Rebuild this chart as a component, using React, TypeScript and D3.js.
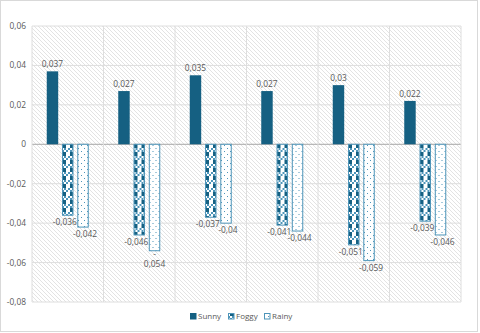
import React from "react";
import * as d3 from "d3";

const categories = ["1", "2", "3", "4", "5", "6"];
const seriesNames = ["Sunny", "Foggy", "Rainy"];
const sunny = [0.037, 0.027, 0.035, 0.027, 0.03, 0.022];
const foggy = [-0.036, -0.046, -0.037, -0.041, -0.051, -0.039];
const rainy = [-0.042, -0.054, -0.04, -0.044, -0.059, -0.046];
const yTicks = [0.06, 0.04, 0.02, 0, -0.02, -0.04, -0.06, -0.08];

const W = 480;
const H = 333;
const left = 32;
const right = 461;
const top = 26;
const bottom = 302;
const FONT = "'Open Sans', 'Liberation Sans', sans-serif";
const TXT = "#595959";
const DARK = "#156082";
const LIGHT = "#4e95b9";
const FS = 8.4;

const fmt = (v: number) => {
  if (v === 0) return "0";
  return String(v).replace(".", ",");
};

export default function App() {
  const x = d3.scaleBand<string>().domain(categories).range([left, right]).padding(0);
  const inner = d3
    .scaleBand<string>()
    .domain(seriesNames)
    .range([14.75, x.bandwidth() - 14.75])
    .paddingInner(0.25)
    .paddingOuter(0);
  const y = d3.scaleLinear().domain([-0.08, 0.06]).range([bottom, top]);
  const values = [sunny, foggy, rainy];
  const fills = [DARK, "url(#fogPat)", "url(#rainPat)"];
  const strokes = ["none", LIGHT, LIGHT];
  const bw = inner.bandwidth();

  return (
    <svg width={W} height={H} style={{ display: "block", position: "absolute", left: 0, top: 0 }}>
      <defs>
        <pattern id="bgHatch" patternUnits="userSpaceOnUse" width="4" height="4">
          <rect width="4" height="4" fill="#ffffff" />
          <path d="M-1,-1 L5,5 M-1,3 L1,5 M3,-1 L5,1" stroke="#dcdcdc" strokeWidth="0.8" />
        </pattern>
        <pattern id="fogPat" patternUnits="userSpaceOnUse" width="8" height="8">
          <rect width="8" height="8" fill={DARK} />
          <rect x="2" y="0" width="4" height="4" fill="#ffffff" />
          <rect x="0" y="4" width="8" height="4" fill="#ffffff" />
          <rect x="0" y="4" width="2" height="2" fill={LIGHT} />
          <rect x="4" y="4" width="2" height="2" fill={LIGHT} />
          <rect x="2" y="6" width="2" height="2" fill={LIGHT} />
          <rect x="6" y="6" width="2" height="2" fill={LIGHT} />
        </pattern>
        <pattern id="rainPat" patternUnits="userSpaceOnUse" width="6" height="6">
          <rect width="6" height="6" fill="#ffffff" />
          <rect x="1" y="1" width="1" height="1" fill={LIGHT} />
          <rect x="4" y="4" width="1" height="1" fill={LIGHT} />
        </pattern>
      </defs>
      <rect x={0.5} y={0.5} width={477} height={331} fill="#ffffff" stroke="#d9d9d9" />
      <rect x={left} y={top} width={right - left} height={bottom - top} fill="url(#bgHatch)" />
      {yTicks.map((t) => (
        <g key={t}>
          <line
            x1={left}
            x2={right}
            y1={y(t)}
            y2={y(t)}
            stroke={t === 0 ? "#a6a6a6" : "#dedede"}
            strokeWidth={1}
          />
          <text x={26} y={y(t)} dy="0.35em" textAnchor="end" fontFamily={FONT} fontSize={FS} fill={TXT}>
            {t === 0 ? "0" : d3.format(".2f")(t).replace(".", ",").replace("−", "-")}
          </text>
        </g>
      ))}
      {[...categories.map((c) => x(c) as number), right].map((px, i) => (
        <line key={"v" + i} x1={px} x2={px} y1={top} y2={bottom} stroke="#dedede" />
      ))}
      {categories.map((c, ci) => (
        <g key={c} transform={`translate(${x(c)},0)`}>
          {seriesNames.map((s, si) => {
            const v = values[si][ci];
            const y0 = y(0);
            const y1 = y(v);
            const bx = inner(s) as number;
            const yTop = Math.min(y0, y1);
            const h = Math.abs(y1 - y0);
            const sw = strokes[si] === "none" ? 0 : 1;
            return (
              <rect
                key={s}
                x={bx + sw / 2}
                y={yTop}
                width={bw - sw}
                height={h}
                fill={fills[si]}
                stroke={strokes[si]}
                strokeWidth={sw}
              />
            );
          })}
          {seriesNames.map((s, si) => {
            const v = values[si][ci];
            const bx = (inner(s) as number) + bw / 2;
            const dx = si === 1 ? -3 : si === 2 ? 2 : 0;
            const label = fmt(v);
            if (v >= 0) {
              return (
                <text key={s} x={bx} y={y(v) - 4} textAnchor="middle" fontFamily={FONT} fontSize={FS} fill={TXT}>
                  {label}
                </text>
              );
            }
            if (si === 2 && ci === 1) {
              return (
                <g key={s}>
                  <text x={bx} y={y(v) + 6} textAnchor="middle" fontFamily={FONT} fontSize={FS} fill={TXT}>
                    -
                  </text>
                  <text x={bx} y={y(v) + 16} textAnchor="middle" fontFamily={FONT} fontSize={FS} fill={TXT}>
                    {label.slice(1)}
                  </text>
                </g>
              );
            }
            return (
              <text key={s} x={bx + dx} y={y(v) + 10} textAnchor="middle" fontFamily={FONT} fontSize={FS} fill={TXT}>
                {label}
              </text>
            );
          })}
        </g>
      ))}
      {seriesNames.map((s, si) => {
        const lx = [190, 228, 264][si];
        return (
          <g key={"lg" + s}>
            <rect
              x={lx + 0.5}
              y={313.5}
              width={5.5}
              height={5.5}
              fill={fills[si]}
              stroke={strokes[si] === "none" ? DARK : LIGHT}
              strokeWidth={1}
            />
            <text x={lx + 8} y={316.5} dy="0.35em" fontFamily={FONT} fontSize={8} fill={TXT}>
              {s}
            </text>
          </g>
        );
      })}
    </svg>
  );
}
